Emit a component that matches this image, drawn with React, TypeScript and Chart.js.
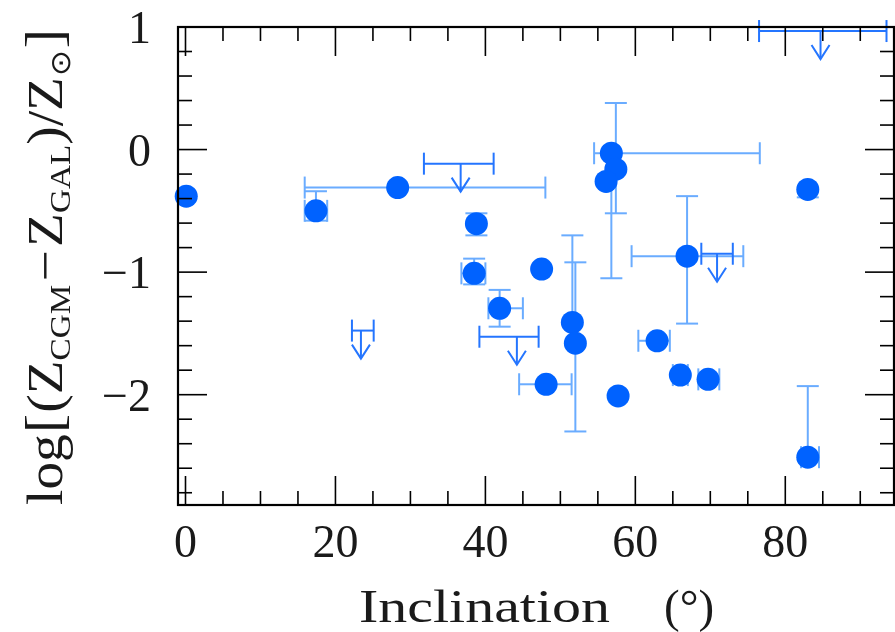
import React, { useEffect, useRef } from "react";
import { Chart, registerables } from "chart.js";

Chart.register(...registerables);

// ---- measured points (inclination in degrees, log metallicity difference) ----
const pointX = [0.1, 17.4, 28.3, 38.8, 38.5, 41.9, 47.5, 48.1, 51.6, 52.0, 56.8, 57.4, 56.1, 57.7, 62.9, 66.0, 69.7, 66.9, 83.0, 83.0];
const pointY = [-0.38, -0.5, -0.31, -0.605, -1.01, -1.295, -0.975, -1.915, -1.41, -1.58, -0.03, -0.16, -0.26, -2.01, -1.56, -1.84, -1.875, -0.87, -0.325, -2.51];
const errXLow = [null, 15.9, 15.9, null, 36.8, 40.4, null, 44.5, null, null, 54.5, null, null, null, 60.4, 65.0, 68.4, 59.5, null, 82.1];
const errXHigh = [null, 18.9, 48.0, null, 40.0, 45.0, null, 51.5, null, null, 76.6, null, null, null, 64.6, 67.0, 71.2, 74.4, null, 84.5];
const errYLow = [null, -0.58, null, -0.7, -1.1, -1.445, null, null, null, -2.3, -1.05, -0.52, null, null, null, null, null, -1.42, -0.39, null];
const errYHigh = [null, -0.34, null, -0.52, -0.89, -1.145, null, null, -0.7, -0.92, null, 0.38, null, null, null, null, null, -0.38, null, -1.93];

// ---- upper limits ----
const limitX = [23.4, 36.7, 44.2, 70.9, 84.7];
const limitY = [-1.477, -0.115, -1.527, -0.85, 0.967];
const limitXLow = [22.2, 31.8, 39.2, 68.8, 76.5];
const limitXHigh = [25.1, 41.1, 47.1, 73.0, 93.5];

// ---- axes ----
const xTickValues = [0, 20, 40, 60, 80];
const xTickLabels = ["0", "20", "40", "60", "80"];
const yTickValues = [1, 0, -1, -2];
const yTickLabels = ["1", "0", "\u22121", "\u22122"];
const xTitle = "Inclination";
const xTitleUnit = "(\u00b0)";

const SERIF = '"Liberation Serif", "Times New Roman", serif';
const TEXT_COLOR = "#1a1a1a";
const POINT_COLOR = "#0062ff";
const ERR_COLOR = "#6aacff";
const LIMIT_COLOR = "#2475ff";

export default function App() {
  const ref = useRef<HTMLCanvasElement>(null);

  useEffect(() => {
    if (!ref.current) return;

    const line = (ctx: CanvasRenderingContext2D, x1: number, y1: number, x2: number, y2: number) => {
      ctx.beginPath();
      ctx.moveTo(x1, y1);
      ctx.lineTo(x2, y2);
      ctx.stroke();
    };

    const errorPlugin = {
      id: "errorbars",
      beforeDatasetsDraw(chart: any) {
        const { ctx, scales } = chart;
        const xs = scales.x;
        const ys = scales.y;
        const cap = 11;
        ctx.save();
        ctx.lineWidth = 2;
        ctx.strokeStyle = ERR_COLOR;
        for (let i = 0; i < pointX.length; i++) {
          const px = xs.getPixelForValue(pointX[i]);
          const py = ys.getPixelForValue(pointY[i]);
          const xl = errXLow[i];
          const xh = errXHigh[i];
          const yl = errYLow[i];
          const yh = errYHigh[i];
          if (xl !== null) {
            const a = xs.getPixelForValue(xl);
            line(ctx, a, py, px, py);
            line(ctx, a, py - cap, a, py + cap);
          }
          if (xh !== null) {
            const b = xs.getPixelForValue(xh);
            line(ctx, px, py, b, py);
            line(ctx, b, py - cap, b, py + cap);
          }
          if (yl !== null) {
            const a = ys.getPixelForValue(yl);
            line(ctx, px, py, px, a);
            line(ctx, px - cap, a, px + cap, a);
          }
          if (yh !== null) {
            const b = ys.getPixelForValue(yh);
            line(ctx, px, py, px, b);
            line(ctx, px - cap, b, px + cap, b);
          }
        }
        ctx.strokeStyle = LIMIT_COLOR;
        for (let i = 0; i < limitX.length; i++) {
          const ax = xs.getPixelForValue(limitX[i]);
          const py = ys.getPixelForValue(limitY[i]);
          const a = xs.getPixelForValue(limitXLow[i]);
          const b = xs.getPixelForValue(limitXHigh[i]);
          line(ctx, a, py, b, py);
          line(ctx, a, py - cap, a, py + cap);
          line(ctx, b, py - cap, b, py + cap);
          line(ctx, ax, py, ax, py + 28);
          ctx.beginPath();
          ctx.moveTo(ax - 9, py + 14);
          ctx.lineTo(ax, py + 28);
          ctx.lineTo(ax + 9, py + 14);
          ctx.stroke();
        }
        ctx.restore();
      },
    };

    const framePlugin = {
      id: "frame",
      afterDraw(chart: any) {
        const { ctx, chartArea, scales } = chart;
        const xs = scales.x;
        const ys = scales.y;
        const { left, right, top, bottom } = chartArea;
        ctx.save();
        ctx.strokeStyle = "#000";
        // ticks
        ctx.lineWidth = 1.6;
        for (let v = 0; v <= 90; v += 5) {
          const px = xs.getPixelForValue(v);
          const len = v % 20 === 0 ? 29 : 14;
          line(ctx, px, bottom, px, bottom - len);
          line(ctx, px, top, px, top + len);
        }
        for (let k = -14; k <= 5; k++) {
          const v = k * 0.2;
          const py = ys.getPixelForValue(v);
          const len = k % 5 === 0 ? 29 : 14;
          line(ctx, left, py, left + len, py);
          line(ctx, right, py, right - len, py);
        }
        ctx.lineWidth = 2.2;
        ctx.strokeRect(left, top, right - left, bottom - top);

        // tick labels
        ctx.fillStyle = TEXT_COLOR;
        ctx.font = `46px ${SERIF}`;
        ctx.textBaseline = "alphabetic";
        ctx.textAlign = "center";
        xTickValues.forEach((v, i) => {
          ctx.fillText(xTickLabels[i], xs.getPixelForValue(v), 557);
        });
        ctx.textAlign = "right";
        yTickValues.forEach((v, i) => {
          ctx.fillText(yTickLabels[i], 151, ys.getPixelForValue(v) + 16);
        });

        // x title
        ctx.textAlign = "left";
        ctx.font = `47px ${SERIF}`;
        const wTitle = ctx.measureText(xTitle).width;
        ctx.save();
        ctx.translate(359, 622);
        ctx.scale(251 / wTitle, 1);
        ctx.fillText(xTitle, 0, 0);
        ctx.restore();
        ctx.fillText(xTitleUnit, 664, 622);

        // y title with subscripts
        const segs = [
          { t: "log", s: 50, dy: 0, pad: 0 },
          { t: "[", s: 52, dy: 0, pad: 1 },
          { t: "(", s: 50, dy: 0, pad: 0 },
          { t: "Z", s: 50, dy: 0, pad: 0 },
          { t: "CGM", s: 30, dy: 8, pad: 0 },
          { t: "\u2212", s: 50, dy: 0, pad: 3 },
          { t: "Z", s: 50, dy: 0, pad: 0 },
          { t: "GAL", s: 30, dy: 8, pad: 0 },
          { t: ")", s: 50, dy: 0, pad: 0 },
          { t: "/", s: 50, dy: 0, pad: 0 },
          { t: "Z", s: 50, dy: 0, pad: 0 },
          { t: "\u2299", s: 28, dy: 8, pad: 1 },
          { t: "]", s: 52, dy: 0, pad: 1 },
        ];
        let total = 0;
        const widths = segs.map((sg) => {
          ctx.font = `${sg.s}px ${SERIF}`;
          const w = ctx.measureText(sg.t).width + sg.pad * 2;
          total += w;
          return w;
        });
        ctx.save();
        ctx.translate(62, 266.5);
        ctx.rotate(-Math.PI / 2);
        ctx.scale(477 / total, 1);
        let cx = -total / 2;
        segs.forEach((sg, i) => {
          ctx.font = `${sg.s}px ${SERIF}`;
          ctx.fillText(sg.t, cx + sg.pad, sg.dy);
          cx += widths[i];
        });
        ctx.restore();
        ctx.restore();
      },
    };

    const chart = new Chart(ref.current, {
      type: "scatter",
      data: {
        datasets: [
          {
            data: pointX.map((x, i) => ({ x, y: pointY[i] })),
            pointRadius: 11.5,
            pointBackgroundColor: POINT_COLOR,
            pointBorderWidth: 0,
            borderWidth: 0,
            clip: false as any,
          },
        ],
      },
      options: {
        animation: false,
        responsive: false,
        maintainAspectRatio: false,
        devicePixelRatio: 1,
        events: [],
        layout: { autoPadding: false, padding: { left: 178, top: 27, right: 1, bottom: 127 } },
        plugins: { legend: { display: false }, tooltip: { enabled: false } },
        scales: {
          x: { type: "linear", min: -1, max: 94.5, display: false },
          y: { type: "linear", min: -2.9, max: 1, display: false },
        },
      },
      plugins: [errorPlugin, framePlugin],
    });

    return () => chart.destroy();
  }, []);

  return (
    <div style={{ position: "fixed", left: 0, top: 0, width: 895, height: 632, background: "#fff" }}>
      <canvas ref={ref} width={895} height={632} style={{ display: "block", width: 895, height: 632 }} />
    </div>
  );
}
